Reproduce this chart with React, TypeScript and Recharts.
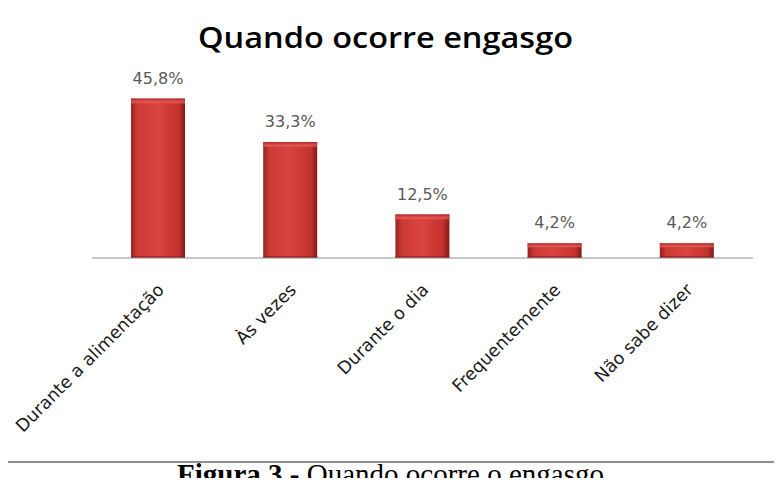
import { Bar, BarChart, LabelList, XAxis, YAxis } from "recharts";

const categories = [
  "Durante a alimentação",
  "Às vezes",
  "Durante o dia",
  "Frequentemente",
  "Não sabe dizer",
];
const percentages = [45.8, 33.3, 12.5, 4.2, 4.2];

const TITLE = "Quando ocorre engasgo";
const CAPTION_LEAD = "Figura 3 - ";
const CAPTION_TEXT = "Quando ocorre o engasgo";

const W = 782;
const H = 486;

const fmtPct = (v: number) => `${v.toFixed(1).replace(".", ",")}%`;

const chartData = categories.map((name, i) => ({ name, value: percentages[i] }));

function CategoryTick(props: any) {
  const { x, y, payload } = props;
  const ax = x + 7;
  return (
    <text
      x={ax}
      y={y}
      transform={`rotate(-45, ${ax}, ${y})`}
      textAnchor="end"
      fontFamily="'DejaVu Sans', sans-serif"
      fontSize={17.5}
      fill="#1a1a1a"
    >
      {payload.value}
    </text>
  );
}

function BevelBar(props: any) {
  const { x, y, width, height } = props;
  if (!height || height <= 0) return null;
  const bevel = Math.min(6, height / 3);
  return (
    <g>
      <rect x={x} y={y} width={width} height={height} fill="url(#barBody)" />
      <rect x={x} y={y} width={width} height={bevel} fill="url(#barTop)" />
      <rect x={x} y={y + height - 2} width={width} height={2} fill="#8e1b19" opacity={0.6} />
    </g>
  );
}

export default function App() {
  return (
    <div
      style={{
        position: "relative",
        width: W,
        height: H,
        margin: -8,
        overflow: "hidden",
        background: "#fff",
      }}
    >
      {/* frame round the chart, top edge falls outside the picture */}
      <div
        style={{
          position: "absolute",
          left: 3,
          top: -10,
          width: 771,
          height: 469,
          border: "2px solid #8f8f8f",
          boxSizing: "content-box",
        }}
      />
      <BarChart
        width={W}
        height={H}
        data={chartData}
        margin={{ top: 84, right: 29, bottom: 0, left: 92 }}
        style={{ position: "absolute", left: 0, top: 0 }}
      >
        <defs>
          <linearGradient id="barBody" x1="0" y1="0" x2="1" y2="0">
            <stop offset="0%" stopColor="#9a1f1c" />
            <stop offset="12%" stopColor="#cc3a36" />
            <stop offset="50%" stopColor="#d9443f" />
            <stop offset="88%" stopColor="#c2322e" />
            <stop offset="100%" stopColor="#821816" />
          </linearGradient>
          <linearGradient id="barTop" x1="0" y1="0" x2="0" y2="1">
            <stop offset="0%" stopColor="#b02724" />
            <stop offset="60%" stopColor="#e8625d" stopOpacity={0.8} />
            <stop offset="100%" stopColor="#d9443f" stopOpacity={0} />
          </linearGradient>
        </defs>
        <XAxis
          dataKey="name"
          height={228}
          interval={0}
          tickLine={false}
          tickSize={0}
          tickMargin={33}
          axisLine={{ stroke: "#8c8c8c", strokeWidth: 1.2 }}
          tick={<CategoryTick />}
        />
        <YAxis hide domain={[0, 50]} />
        <Bar dataKey="value" barSize={54} shape={<BevelBar />} isAnimationActive={false}>
          <LabelList
            dataKey="value"
            position="top"
            offset={15}
            formatter={(v: any) => fmtPct(Number(v))}
            fill="#595959"
            fontFamily="'DejaVu Sans', sans-serif"
            fontSize={16}
          />
        </Bar>
      </BarChart>
      <svg
        width={W}
        height={H}
        style={{ position: "absolute", left: 0, top: 0, pointerEvents: "none" }}
      >
        <text
          x={198}
          y={48}
          textLength={375}
          lengthAdjust="spacingAndGlyphs"
          fontFamily="'Open Sans', sans-serif"
          fontWeight={600}
          fontSize={28}
          fill="#000"
        >
          {TITLE}
        </text>
        <text
          x={390.5}
          y={484}
          textAnchor="middle"
          fontFamily="'Liberation Serif', 'Times New Roman', serif"
          fontSize={29}
          fill="#000"
        >
          <tspan fontWeight={700}>{CAPTION_LEAD}</tspan>
          <tspan>{CAPTION_TEXT}</tspan>
        </text>
      </svg>
    </div>
  );
}
